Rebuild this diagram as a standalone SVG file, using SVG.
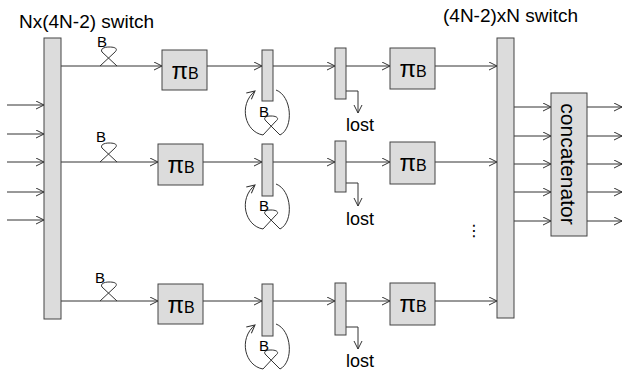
<svg xmlns="http://www.w3.org/2000/svg" width="624" height="375" viewBox="0 0 624 375">
<style>
.box{fill:#dcdcdc;stroke:#444;stroke-width:1}
.arr{fill:none;stroke:#333;stroke-width:1;marker-end:url(#ah)}
.t{font-family:"Liberation Sans",Arial,sans-serif;fill:#000}
.pi{font-family:"Liberation Sans",Arial,sans-serif;font-size:24px;text-anchor:middle;fill:#000}
.pi tspan{font-size:16px}
.b{font-family:"Liberation Sans",Arial,sans-serif;font-size:15px;fill:#000}
</style>
<defs>
<marker id="ah" markerWidth="10" markerHeight="10" refX="9" refY="4.5" orient="auto" markerUnits="userSpaceOnUse"><path d="M1,0.5 L9,4.5 L1,8.5" fill="none" stroke="#333" stroke-width="1"/></marker>
<path id="cross" d="M100,66 L115,52 C118,49 116,47 109,47 C104,47 100,49 102,52 L117,66" fill="none" stroke="#333"/>
<path id="loop" d="M276,90 C292,96 294,128 280,135 L266,121 C263,118 265,116 271,116 C278,116 279,119 276,121 L263,135 C245,132 238,105 255,91" fill="none" stroke="#333" marker-end="url(#ah)"/>
</defs>

<text class="t" x="19" y="28" font-size="19">Nx(4N-2) switch</text>
<text class="t" x="443" y="22" font-size="19">(4N-2)xN switch</text>

<g id="connectors">
<line class="arr" x1="7" y1="105" x2="44" y2="105"/>
<line class="arr" x1="7" y1="134" x2="44" y2="134"/>
<line class="arr" x1="7" y1="162" x2="44" y2="162"/>
<line class="arr" x1="7" y1="192" x2="44" y2="192"/>
<line class="arr" x1="7" y1="220" x2="44" y2="220"/>
<line class="arr" x1="61" y1="66" x2="162" y2="66"/>
<line class="arr" x1="207" y1="66" x2="262" y2="66"/>
<line class="arr" x1="273" y1="66" x2="335" y2="66"/>
<line class="arr" x1="346" y1="66" x2="390" y2="66"/>
<line class="arr" x1="435" y1="66" x2="497" y2="66"/>
<path class="arr" d="M346,91 H358 V113"/>
<line class="arr" x1="61" y1="162" x2="158" y2="162"/>
<line class="arr" x1="203" y1="162" x2="262" y2="162"/>
<line class="arr" x1="273" y1="162" x2="335" y2="162"/>
<line class="arr" x1="346" y1="162" x2="390" y2="162"/>
<line class="arr" x1="435" y1="162" x2="497" y2="162"/>
<path class="arr" d="M346,183 H358 V206"/>
<line class="arr" x1="61" y1="301" x2="158" y2="301"/>
<line class="arr" x1="203" y1="301" x2="262" y2="301"/>
<line class="arr" x1="273" y1="301" x2="335" y2="301"/>
<line class="arr" x1="346" y1="301" x2="390" y2="301"/>
<line class="arr" x1="435" y1="301" x2="497" y2="301"/>
<path class="arr" d="M346,327 H358 V349"/>
<line class="arr" x1="514" y1="107" x2="551" y2="107"/>
<line class="arr" x1="514" y1="136" x2="551" y2="136"/>
<line class="arr" x1="514" y1="164" x2="551" y2="164"/>
<line class="arr" x1="514" y1="192" x2="551" y2="192"/>
<line class="arr" x1="514" y1="221" x2="551" y2="221"/>
<line class="arr" x1="587" y1="107" x2="622" y2="107"/>
<line class="arr" x1="587" y1="136" x2="622" y2="136"/>
<line class="arr" x1="587" y1="164" x2="622" y2="164"/>
<line class="arr" x1="587" y1="192" x2="622" y2="192"/>
<line class="arr" x1="587" y1="221" x2="622" y2="221"/>
<use href="#cross"/>
<use href="#cross" transform="translate(0,96)"/>
<use href="#cross" transform="translate(0,235)"/>
<use href="#loop"/>
<use href="#loop" transform="translate(0,94)"/>
<use href="#loop" transform="translate(0,234)"/>
</g>

<g id="delay-labels">
<text class="b" x="97" y="47">B</text>
<text class="b" x="96" y="142">B</text>
<text class="b" x="95" y="283">B</text>
<text class="b" x="259" y="117">B</text>
<text class="b" x="259" y="211">B</text>
<text class="b" x="259" y="351">B</text>
</g>

<g id="switch-left"><rect class="box" x="44" y="38" width="17" height="281"/></g>
<g id="switch-right"><rect class="box" x="497" y="38" width="17" height="280"/></g>
<g id="concatenator"><rect class="box" x="551" y="93" width="36" height="143"/>
<text class="t" font-size="21" text-anchor="middle" transform="translate(561,164) rotate(90)">concatenator</text></g>

<g id="pi-1a"><rect class="box" x="162" y="50" width="45" height="40"/><text class="pi" x="185" y="79">π<tspan>B</tspan></text></g>
<g id="pi-2a"><rect class="box" x="158" y="144" width="45" height="41"/><text class="pi" x="181" y="173">π<tspan>B</tspan></text></g>
<g id="pi-3a"><rect class="box" x="158" y="284" width="45" height="40"/><text class="pi" x="181" y="313">π<tspan>B</tspan></text></g>

<g id="bar-1a"><rect class="box" x="262" y="50" width="11" height="51"/></g>
<g id="bar-2a"><rect class="box" x="262" y="144" width="11" height="52"/></g>
<g id="bar-3a"><rect class="box" x="262" y="284" width="11" height="52"/></g>

<g id="bar-1b"><rect class="box" x="335" y="48" width="11" height="51"/><text class="t" x="360" y="131" font-size="18" text-anchor="middle">lost</text></g>
<g id="bar-2b"><rect class="box" x="335" y="141" width="11" height="51"/><text class="t" x="360" y="225" font-size="18" text-anchor="middle">lost</text></g>
<g id="bar-3b"><rect class="box" x="335" y="283" width="11" height="52"/><text class="t" x="360" y="367" font-size="18" text-anchor="middle">lost</text></g>

<g id="pi-1b"><rect class="box" x="390" y="48" width="45" height="41"/><text class="pi" x="413" y="77">π<tspan>B</tspan></text></g>
<g id="pi-2b"><rect class="box" x="390" y="142" width="45" height="42"/><text class="pi" x="413" y="171">π<tspan>B</tspan></text></g>
<g id="pi-3b"><rect class="box" x="390" y="283" width="45" height="42"/><text class="pi" x="413" y="312">π<tspan>B</tspan></text></g>

<text x="474" y="236" font-family="DejaVu Sans, sans-serif" font-size="16" text-anchor="middle">⋮</text>
</svg>
